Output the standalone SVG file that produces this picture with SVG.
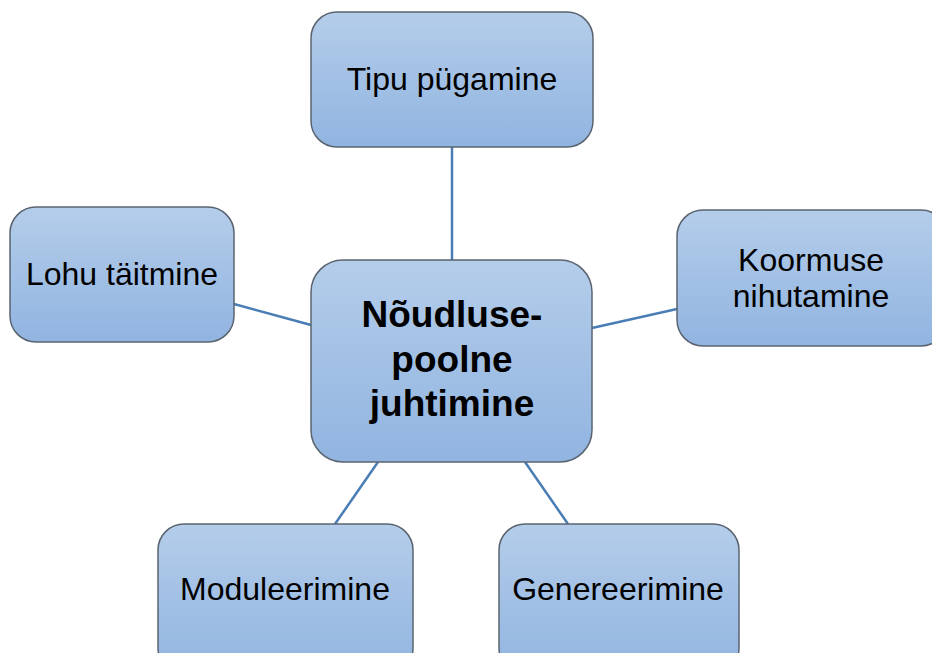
<svg xmlns="http://www.w3.org/2000/svg" width="932" height="653" viewBox="0 0 932 653">
<defs>
<linearGradient id="g" x1="0" y1="0" x2="0" y2="1">
<stop offset="0" stop-color="#b4cdea"/>
<stop offset="1" stop-color="#91b4e0"/>
</linearGradient>
<style>
.box{fill:url(#g);stroke:#5a6470;stroke-width:1.5}
.lbl{font-family:"Liberation Sans",Arial,sans-serif;font-size:32px;fill:#000;text-anchor:middle}
.big{font-family:"Liberation Sans",Arial,sans-serif;font-size:37px;font-weight:bold;fill:#000;text-anchor:middle}
.conn line{stroke:#4a7db5;stroke-width:2.5}
</style>
</defs>
<rect width="932" height="653" fill="#fff"/>
<g class="conn">
<line x1="452" y1="147" x2="452" y2="261"/>
<line x1="234" y1="304" x2="311" y2="325"/>
<line x1="592" y1="328" x2="677" y2="309"/>
<line x1="378" y1="462" x2="335" y2="524"/>
<line x1="525" y1="462" x2="568" y2="524"/>
</g>
<g id="top"><rect class="box" x="311" y="12" width="282" height="135" rx="26"/><text class="lbl" x="452" y="90">Tipu pügamine</text></g>
<g id="left"><rect class="box" x="10" y="207" width="224" height="135" rx="26"/><text class="lbl" x="122" y="285">Lohu täitmine</text></g>
<g id="right"><rect class="box" x="677" y="210" width="270" height="136" rx="26"/><text class="lbl" x="811" y="271">Koormuse</text><text class="lbl" x="811" y="307">nihutamine</text></g>
<g id="center"><rect class="box" x="311" y="260" width="281" height="202" rx="32"/><text class="big" x="452" y="327">Nõudluse-</text><text class="big" x="452" y="372">poolne</text><text class="big" x="452" y="416">juhtimine</text></g>
<g id="bl"><rect class="box" x="158" y="524" width="255" height="150" rx="26"/><text class="lbl" x="285" y="600">Moduleerimine</text></g>
<g id="br"><rect class="box" x="499" y="524" width="240" height="150" rx="26"/><text class="lbl" x="618" y="600">Genereerimine</text></g>
</svg>
